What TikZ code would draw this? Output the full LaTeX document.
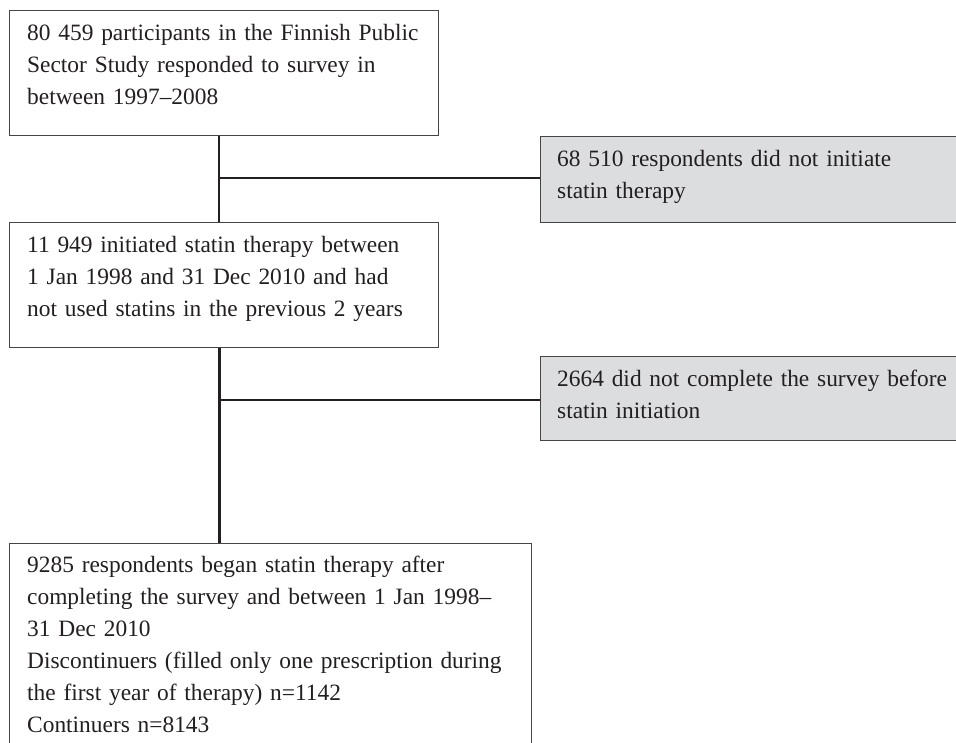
\documentclass[tikz,border=0pt]{standalone}
\usepackage{fontspec}
\setmainfont{Liberation Serif}
\definecolor{ink}{HTML}{231F20}
\definecolor{boxline}{HTML}{454545}
\definecolor{greyfill}{HTML}{DCDDDF}
\begin{document}
\begin{tikzpicture}[x=1pt,y=1pt,
  boxw/.style={draw=boxline, line width=1.4pt, fill=white, inner sep=0pt, anchor=north west},
  boxg/.style={draw=boxline, line width=1.4pt, fill=greyfill, inner sep=0pt, anchor=north west},
  txt/.style={anchor=base west, inner sep=0pt, text width=540pt, align=left, text=ink,
    font=\fontsize{23.4}{32}\selectfont},
  conn/.style={draw=ink, line width=2.3pt},
  connb/.style={draw=ink, line width=3pt}]
\useasboundingbox (0,0) rectangle (956,742);
\clip (0,0) rectangle (956,742);
% boxes
\node[boxw, minimum width=429pt, minimum height=125pt] (b1) at (9,732) {};
\node[boxw, minimum width=429pt, minimum height=125pt] (b2) at (9,520) {};
\node[boxg, minimum width=440pt, minimum height=86pt] (g1) at (540,606) {};
\node[boxg, minimum width=440pt, minimum height=84pt] (g2) at (540,386) {};
\node[boxw, minimum width=522pt, minimum height=220pt] (b3) at (9,199) {};
% texts
\node[txt] (t1) at ([xshift=18pt,yshift=-30.5pt]b1.north west)
  {80 459 participants in the Finnish Public\\Sector Study responded to survey in\\between 1997–2008};
\node[txt] (t2) at ([xshift=18pt,yshift=-30.5pt]b2.north west)
  {11 949 initiated statin therapy between\\1 Jan 1998 and 31 Dec 2010 and had\\not used statins in the previous 2 years};
\node[txt] (t3) at ([xshift=17pt,yshift=-30.5pt]g1.north west)
  {68 510 respondents did not initiate\\statin therapy};
\node[txt] (t4) at ([xshift=17pt,yshift=-30.5pt]g2.north west)
  {2664 did not complete the survey before\\statin initiation};
\node[txt] (t5) at ([xshift=18pt,yshift=-30pt]b3.north west)
  {9285 respondents began statin therapy after\\completing the survey and between 1 Jan 1998–\\31 Dec 2010\\Discontinuers (filled only one prescription during\\the first year of therapy) n=1142\\Continuers n=8143};
% connectors
\coordinate (j1) at (219,564);
\coordinate (j2) at (219,342);
\draw[conn] (j1 |- b1.south) -- (j1 |- b2.north);
\draw[conn] (j1) -- (j1 -| g1.west);
\draw[connb] (j2 |- b2.south) -- (j2 |- b3.north);
\draw[conn] (j2) -- (j2 -| g2.west);
\end{tikzpicture}
\end{document}
